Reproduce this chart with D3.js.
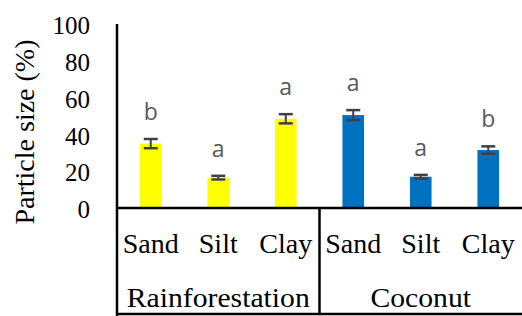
<!DOCTYPE html>
<html>
<head>
<meta charset="utf-8">
<script src="https://cdn.jsdelivr.net/npm/d3@7"></script>
<style>
body { margin: 0; background: #fff; }
</style>
</head>
<body>
<div id="chart"></div>
<script>
var groups = ["Rainforestation", "Coconut"];
var soils = ["Sand", "Silt", "Clay"];
var rainValues = [35, 16.5, 48.5];
var rainErrors = [2.5, 1, 2.5];
var rainLetters = ["b", "a", "a"];
var cocoValues = [50.5, 17, 31.5];
var cocoErrors = [2.7, 1, 2];
var cocoLetters = ["a", "a", "b"];
var yTicks = [0, 20, 40, 60, 80, 100];

var svgWidth = 522;
var svgHeight = 316;
var serif = "'Liberation Serif', 'Times New Roman', serif";

var svg = d3.select("#chart")
  .append("svg")
  .attr("width", svgWidth)
  .attr("height", svgHeight);

// flat list of bars: one per group + soil
var data = [];
groups.forEach(function(g, gi) {
  var vals = gi == 0 ? rainValues : cocoValues;
  var errs = gi == 0 ? rainErrors : cocoErrors;
  var lets = gi == 0 ? rainLetters : cocoLetters;
  soils.forEach(function(s, si) {
    data.push({group: g, soil: s, key: g + "-" + s, value: vals[si], err: errs[si], letter: lets[si]});
  });
});

var x = d3.scaleBand()
  .domain(data.map(d => d.key))
  .range([117, 522])
  .paddingInner(0.68)
  .paddingOuter(0.34);

var y = d3.scaleLinear()
  .domain([0, 100])
  .range([208, 24]);

var colors = {"Rainforestation": "#ffff00", "Coconut": "#0070c0"};

// y axis labels (no ticks, no domain path)
var yAxis = d3.axisLeft(y).tickValues(yTicks).tickSize(0).tickPadding(0);
var yg = svg.append("g")
  .attr("transform", "translate(90,1)")
  .call(yAxis);
yg.select(".domain").remove();
yg.selectAll("text")
  .attr("font-family", serif)
  .attr("font-size", 25)
  .attr("fill", "#000")
  .attr("dy", "0.35em");

svg.append("text")
  .attr("transform", "translate(34,132) rotate(-90)")
  .attr("text-anchor", "middle")
  .attr("font-family", serif)
  .attr("font-size", 28)
  .attr("fill", "#000")
  .text("Particle size (%)");

// bars
svg.selectAll("rect.bar")
  .data(data)
  .enter()
  .append("rect")
  .attr("class", "bar")
  .attr("x", d => x(d.key))
  .attr("y", d => y(d.value))
  .attr("width", x.bandwidth())
  .attr("height", d => y(0) - y(d.value))
  .attr("fill", d => colors[d.group]);

// error bars
var errG = svg.selectAll("g.err").data(data).enter().append("g").attr("class", "err");
errG.append("line")
  .attr("x1", d => x(d.key) + x.bandwidth() / 2)
  .attr("x2", d => x(d.key) + x.bandwidth() / 2)
  .attr("y1", d => y(d.value + d.err))
  .attr("y2", d => y(d.value - d.err))
  .attr("stroke", "#404040")
  .attr("stroke-width", 2);
errG.selectAll("line.cap")
  .data(d => [d.value + d.err, d.value - d.err].map(v => ({key: d.key, v: v})))
  .enter()
  .append("line")
  .attr("class", "cap")
  .attr("x1", d => x(d.key) + x.bandwidth() / 2 - 7)
  .attr("x2", d => x(d.key) + x.bandwidth() / 2 + 7)
  .attr("y1", d => y(d.v))
  .attr("y2", d => y(d.v))
  .attr("stroke", "#404040")
  .attr("stroke-width", 2.5);

// significance letters
svg.selectAll("text.letter")
  .data(data)
  .enter()
  .append("text")
  .attr("class", "letter")
  .attr("x", d => x(d.key) + x.bandwidth() / 2)
  .attr("y", d => y(d.value + d.err) - 19)
  .attr("text-anchor", "middle")
  .attr("font-family", "'Open Sans', 'Liberation Sans', sans-serif")
  .attr("font-size", 23)
  .attr("fill", "#595959")
  .text(d => d.letter);

// axis frame and category table
var midX = x(data[3].key) - (x.step() - x.bandwidth()) / 2;
var lines = [
  [117, 24, 117, 316],
  [117, 208, 522, 208],
  [117, 314, 522, 314],
  [midX, 208, midX, 314]
];
svg.selectAll("line.frame")
  .data(lines)
  .enter()
  .append("line")
  .attr("class", "frame")
  .attr("x1", d => d[0]).attr("y1", d => d[1])
  .attr("x2", d => d[2]).attr("y2", d => d[3])
  .attr("stroke", "#000")
  .attr("stroke-width", 2.5);

svg.selectAll("text.soil")
  .data(data)
  .enter()
  .append("text")
  .attr("class", "soil")
  .attr("x", d => x(d.key) + x.bandwidth() / 2)
  .attr("y", 253)
  .attr("text-anchor", "middle")
  .attr("font-family", serif)
  .attr("font-size", 28)
  .attr("fill", "#000")
  .text(d => d.soil);

svg.selectAll("text.group")
  .data(groups)
  .enter()
  .append("text")
  .attr("class", "group")
  .attr("transform", g => {
    var cx = d3.mean(data.filter(d => d.group == g).map(d => x(d.key) + x.bandwidth() / 2));
    return "translate(" + cx + ",307) scale(1.06,1)";
  })
  .attr("text-anchor", "middle")
  .attr("font-family", serif)
  .attr("font-size", 28)
  .attr("fill", "#000")
  .text(g => g);
</script>
</body>
</html>
